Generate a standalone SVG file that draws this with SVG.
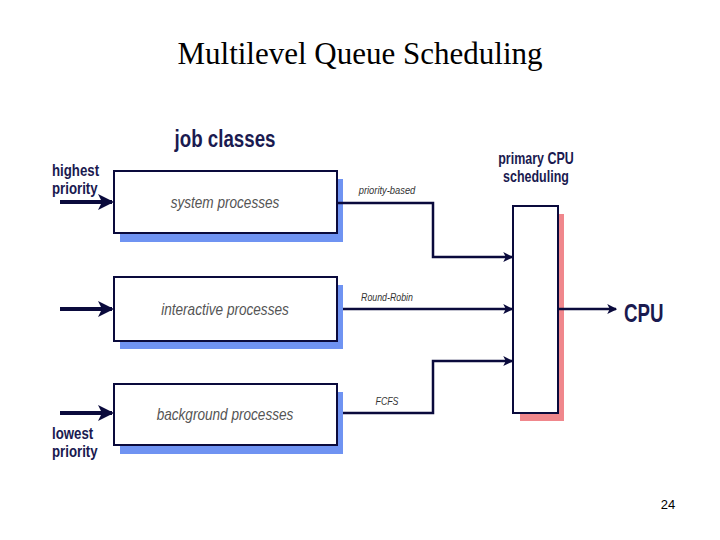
<svg xmlns="http://www.w3.org/2000/svg" width="720" height="540" viewBox="0 0 720 540">
<style>
.box{fill:#fff;stroke:#0a0a3c;stroke-width:2}
.sh{fill:#6f93f2}
.shp{fill:#f0878c}
.ln{fill:none;stroke:#0a0a3c;stroke-width:2.5}
.in{fill:none;stroke:#0a0a3c;stroke-width:4}
.lbl{font-family:"Liberation Sans",Arial,sans-serif;font-style:italic;fill:#555;font-size:16px;text-anchor:middle}
.sm{font-family:"Liberation Sans",Arial,sans-serif;font-style:italic;fill:#333;font-size:11px;text-anchor:middle}
.hd{font-family:"Liberation Sans",Arial,sans-serif;font-weight:bold;fill:#1a1a50;font-size:17px}
</style>
<defs>
<marker id="ah" markerWidth="4" markerHeight="4" refX="3.5" refY="2" orient="auto" markerUnits="strokeWidth"><path d="M0,0 L4,2 L0,4 L1,2 z" fill="#0a0a3c"/></marker>
</defs>
<rect width="720" height="540" fill="#fff"/>
<text x="360" y="64" font-family="Liberation Serif,serif" font-size="31" text-anchor="middle">Multilevel Queue Scheduling</text>
<text x="225" y="147" class="hd" style="font-size:24px" text-anchor="middle" transform="translate(225,0) scale(0.78,1) translate(-225,0)">job classes</text>
<text x="52" y="176" class="hd" transform="translate(52,0) scale(0.78,1) translate(-52,0)">highest</text>
<text x="52" y="194" class="hd" transform="translate(52,0) scale(0.78,1) translate(-52,0)">priority</text>
<text x="52" y="439" class="hd" transform="translate(52,0) scale(0.78,1) translate(-52,0)">lowest</text>
<text x="52" y="457" class="hd" transform="translate(52,0) scale(0.78,1) translate(-52,0)">priority</text>
<text x="536" y="164" class="hd" style="font-size:16px" text-anchor="middle" transform="translate(536,0) scale(0.78,1) translate(-536,0)">primary CPU</text>
<text x="536" y="182" class="hd" style="font-size:16px" text-anchor="middle" transform="translate(536,0) scale(0.78,1) translate(-536,0)">scheduling</text>
<text x="624" y="322" class="hd" style="font-size:26px" transform="translate(624,0) scale(0.72,1) translate(-624,0)">CPU</text>
<g id="system"><rect class="sh" x="120" y="179" width="223" height="63"/><rect class="box" x="114" y="171" width="223" height="62"/><text class="lbl" x="225" y="208" transform="translate(225,0) scale(0.85,1) translate(-225,0)">system processes</text></g>
<g id="interactive"><rect class="sh" x="120" y="285" width="223" height="64"/><rect class="box" x="114" y="277" width="223" height="64"/><text class="lbl" x="225" y="315" transform="translate(225,0) scale(0.85,1) translate(-225,0)">interactive processes</text></g>
<g id="background"><rect class="sh" x="120" y="392" width="223" height="62"/><rect class="box" x="114" y="384" width="223" height="61"/><text class="lbl" x="225" y="420" transform="translate(225,0) scale(0.85,1) translate(-225,0)">background processes</text></g>
<g id="scheduler"><rect class="shp" x="520" y="214" width="44" height="207"/><rect class="box" x="513" y="206" width="45" height="207"/></g>
<g id="connectors">
<path class="in" d="M60,202 H112" marker-end="url(#ah)"/>
<path class="in" d="M60,309 H112" marker-end="url(#ah)"/>
<path class="in" d="M60,413 H112" marker-end="url(#ah)"/>
<path class="ln" d="M337,203 H433 V257 H512" marker-end="url(#ah)"/>
<path class="ln" d="M343,309 H512" marker-end="url(#ah)"/>
<path class="ln" d="M343,413 H433 V361 H512" marker-end="url(#ah)"/>
<path class="ln" d="M558,309 H616" marker-end="url(#ah)"/>
<text class="sm" x="387" y="194" transform="translate(387,0) scale(0.85,1) translate(-387,0)">priority-based</text>
<text class="sm" x="387" y="301" transform="translate(387,0) scale(0.8,1) translate(-387,0)">Round-Robin</text>
<text class="sm" x="387" y="405" transform="translate(387,0) scale(0.8,1) translate(-387,0)">FCFS</text>
</g>
<text x="668" y="509" font-family="Liberation Sans,Arial,sans-serif" font-size="13" text-anchor="middle">24</text>
</svg>
